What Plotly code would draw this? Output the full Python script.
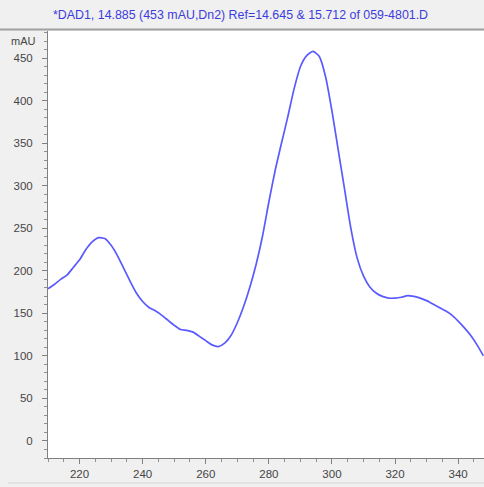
import plotly.graph_objects as go

wavelength = [210, 212, 214, 216, 218, 220, 222, 224, 226, 228, 230, 232, 234, 236, 238,
              240, 242, 244, 246, 248, 250, 252, 254, 256, 258, 260, 262, 264, 266, 268,
              270, 272, 274, 276, 278, 280, 282, 284, 286, 288, 290, 292, 294, 296, 298,
              300, 302, 304, 306, 308, 310, 312, 314, 316, 318, 320, 322, 324, 326, 328,
              330, 332, 334, 336, 338, 340, 342, 344, 346, 348]
absorbance = [179, 184, 190, 195, 204, 213, 225, 234, 239, 238, 230, 218, 203, 188, 174,
              164, 157, 153, 148, 142, 136, 131, 130, 128, 123, 118, 113, 111, 115, 124,
              139, 158, 181, 208, 241, 281, 318, 350, 381, 414, 440, 453, 458, 452, 428,
              388, 342, 296, 250, 215, 194, 181, 174, 170, 168, 168, 169, 171, 170, 168,
              165, 161, 157, 153, 148, 141, 133, 124, 113, 100]

title_text = "*DAD1, 14.885 (453 mAU,Dn2) Ref=14.645 & 15.712 of 059-4801.D"
y_unit = "mAU"

W, H = 484, 487
L, R, T, B = 48, 0, 31, 29
pw, ph = W - L - R, H - T - B

fig = go.Figure()
fig.add_trace(go.Scatter(x=wavelength, y=absorbance, mode="lines",
                         line=dict(color="#5a5aff", width=1.7, shape="spline", smoothing=0.6),
                         hoverinfo="skip", showlegend=False))

axis_font = dict(family="Liberation Sans, Arial, sans-serif", size=11.5, color="#454545")

fig.update_layout(
    width=W, height=H,
    margin=dict(l=L, r=R, t=T, b=B, pad=0),
    paper_bgcolor="#f0f0f0",
    plot_bgcolor="#ffffff",
    xaxis=dict(range=[210, 348.2], tick0=200, dtick=20, ticks="outside", ticklen=5,
               tickcolor="#808080", showline=True, linecolor="#808080", linewidth=1,
               showgrid=False, zeroline=False, tickfont=axis_font, ticklabelstandoff=0,
               minor=dict(dtick=5, tick0=200, ticks="outside", ticklen=3, tickcolor="#909090",
                          showgrid=False)),
    yaxis=dict(range=[-20, 482], tick0=0, dtick=50, ticks="outside", ticklen=5,
               tickcolor="#808080", showline=True, linecolor="#808080", linewidth=1,
               showgrid=False, zeroline=False, tickfont=axis_font, ticklabelstandoff=7,
               minor=dict(dtick=10, tick0=0, ticks="outside", ticklen=3, tickcolor="#909090",
                          showgrid=False)),
    annotations=[
        dict(text=title_text, xref="paper", yref="paper",
             x=(240 - L) / pw, y=1 + (T - 15) / ph, xanchor="center", yanchor="middle",
             showarrow=False,
             font=dict(family="Liberation Sans, Arial, sans-serif", size=12.4, color="#3c3cdc")),
        dict(text=y_unit, xref="paper", yref="y", x=0, y=470, xanchor="right", yanchor="middle",
             xshift=-10, showarrow=False,
             font=dict(family="Liberation Sans, Arial, sans-serif", size=11, color="#454545")),
    ],
    shapes=[
        dict(type="line", xref="paper", yref="paper", x0=-L / pw, x1=1,
             y0=1 + (T - 29.5) / ph, y1=1 + (T - 29.5) / ph,
             line=dict(color="#a0a0a0", width=2)),
        dict(type="line", xref="paper", yref="paper", x0=(8 - L) / pw, x1=1,
             y0=-(483 - (H - B)) / ph, y1=-(483 - (H - B)) / ph,
             line=dict(color="#d4d4d4", width=1)),
    ],
)

fig.write_html("out.html", config={"displayModeBar": False},
               post_script="document.body.style.margin='0';document.body.style.background='#f0f0f0';")
